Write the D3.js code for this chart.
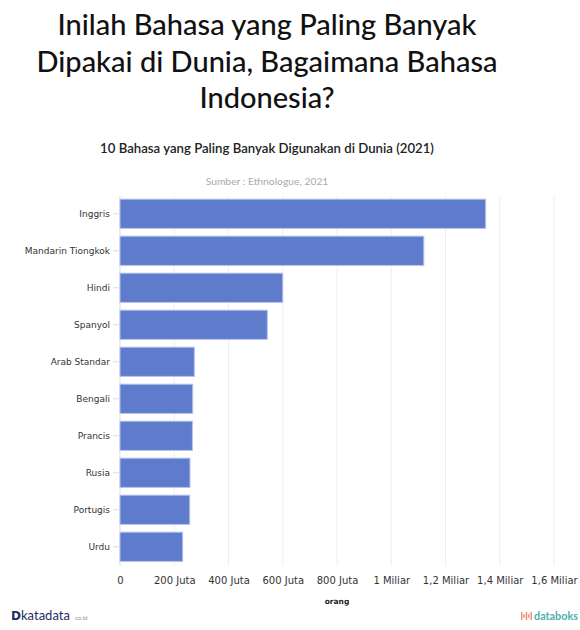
<!DOCTYPE html>
<html>
<head>
<meta charset="utf-8">
<script src="https://cdn.jsdelivr.net/npm/d3@7"></script>
<style>
  body { margin: 0; background: #fff; }
  svg { display: block; }
</style>
</head>
<body>
<div id="chart"></div>
<script>
const languages = ["Inggris", "Mandarin Tiongkok", "Hindi", "Spanyol", "Arab Standar",
  "Bengali", "Prancis", "Rusia", "Portugis", "Urdu"];
const speakers = [1348, 1120, 600, 543, 274, 268, 267, 258, 257, 231]; // juta orang
const xTicks = [0, 200, 400, 600, 800, 1000, 1200, 1400, 1600];
const xTickLabels = ["0", "200 Juta", "400 Juta", "600 Juta", "800 Juta", "1 Miliar",
  "1,2 Miliar", "1,4 Miliar", "1,6 Miliar"];
const titleLines = ["Inilah Bahasa yang Paling Banyak", "Dipakai di Dunia, Bagaimana Bahasa", "Indonesia?"];

const width = 580, height = 630;
const config = { left: 120, right: 26, top: 196, bottom: 65 };
const headCenter = 267;

const svg = d3.select("#chart")
  .append("svg")
  .attr("width", width)
  .attr("height", height);

// judul
svg.append("g")
  .selectAll("text")
  .data(titleLines)
  .join("text")
    .attr("x", headCenter)
    .attr("y", (d, i) => 35 + i * 36.5)
    .attr("text-anchor", "middle")
    .style("font-family", "Lato, 'Open Sans', sans-serif")
    .style("font-size", "29px")
    .style("font-weight", 500)
    .style("fill", "#111")
    .text(d => d);

svg.append("text")
  .attr("x", headCenter)
  .attr("y", 153)
  .attr("text-anchor", "middle")
  .style("font-family", "Lato, sans-serif")
  .style("font-size", "13.2px")
  .style("font-weight", 600)
  .style("fill", "#222")
  .text("10 Bahasa yang Paling Banyak Digunakan di Dunia (2021)");

svg.append("text")
  .attr("x", headCenter)
  .attr("y", 185)
  .attr("text-anchor", "middle")
  .style("font-family", "Lato, sans-serif")
  .style("font-size", "10.3px")
  .style("fill", "#aaa")
  .text("Sumber : Ethnologue, 2021");

const xScale = d3.scaleLinear()
  .domain([0, 1600])
  .range([config.left, width - config.right]);

const yScale = d3.scaleBand()
  .domain(languages)
  .range([195.3, 565.3])
  .paddingInner(0.21)
  .paddingOuter(0.105);

// grid
svg.append("g")
  .selectAll("line")
  .data(xTicks)
  .join("line")
    .attr("x1", d => xScale(d))
    .attr("x2", d => xScale(d))
    .attr("y1", config.top)
    .attr("y2", 566)
    .attr("stroke", d => d === 0 ? "#ddd" : "#eee")
    .attr("stroke-width", 1);

// bars
svg.append("g")
  .selectAll("rect")
  .data(languages)
  .join("rect")
    .attr("x", xScale(0))
    .attr("y", d => yScale(d))
    .attr("width", (d, i) => xScale(speakers[i]) - xScale(0))
    .attr("height", yScale.bandwidth())
    .attr("fill", "#5f7bcb")
    .attr("stroke", "#b4c2ee")
    .attr("stroke-width", 1);

// y axis
const yAxis = d3.axisLeft(yScale).tickSize(6).tickPadding(3);
const yG = svg.append("g")
  .attr("transform", `translate(${config.left - 1},0)`)
  .call(yAxis);
yG.select(".domain").remove();
yG.selectAll(".tick line").attr("stroke", "#ddd");
yG.selectAll(".tick text")
  .style("font-family", "'DejaVu Sans', Verdana, sans-serif")
  .style("font-size", "9px")
  .style("fill", "#333");

// x axis
const xAxis = d3.axisBottom(xScale)
  .tickValues(xTicks)
  .tickFormat((d, i) => xTickLabels[i])
  .tickSize(0)
  .tickPadding(0);
const xG = svg.append("g")
  .attr("transform", `translate(0,577)`)
  .call(xAxis);
xG.select(".domain").remove();
xG.selectAll(".tick text")
  .attr("dy", "0.71em")
  .style("font-family", "'DejaVu Sans', Verdana, sans-serif")
  .style("font-size", "10px")
  .style("fill", "#333");

svg.append("text")
  .attr("x", (xScale(0) + xScale(1600)) / 2)
  .attr("y", 604)
  .attr("text-anchor", "middle")
  .style("font-family", "'DejaVu Sans', Verdana, sans-serif")
  .style("font-size", "7.5px")
  .style("font-weight", "bold")
  .style("fill", "#222")
  .text("orang");

// logo katadata
const kd = svg.append("g");
kd.append("text")
  .attr("x", 11).attr("y", 620)
  .style("font-family", "'DejaVu Sans', sans-serif")
  .style("font-size", "12px")
  .style("font-weight", "bold")
  .style("fill", "#1d2d5c")
  .text("D");
kd.append("text")
  .attr("x", 21).attr("y", 620)
  .style("font-family", "Lato, sans-serif")
  .style("font-size", "13px")
  .style("fill", "#1d2d5c")
  .text("katadata");
kd.append("text")
  .attr("x", 75).attr("y", 620)
  .style("font-family", "Lato, sans-serif")
  .style("font-size", "6px")
  .style("fill", "#8a93aa")
  .text("co.id");

// logo databoks
const db = svg.append("g");
[0, 1, 2, 3, 4].forEach(i => {
  db.append("rect")
    .attr("x", 521 + i * 2.4)
    .attr("y", 612 + (i % 2 === 0 ? 0 : 2))
    .attr("width", 1.4)
    .attr("height", i % 2 === 0 ? 8 : 4)
    .attr("fill", "#f08a6e");
});
db.append("text")
  .attr("x", 534).attr("y", 620)
  .attr("textLength", 44)
  .attr("lengthAdjust", "spacingAndGlyphs")
  .style("font-family", "Lato, sans-serif")
  .style("font-size", "11.5px")
  .style("font-weight", "bold")
  .style("fill", "#4fb0ad")
  .text("databoks");
</script>
</body>
</html>
